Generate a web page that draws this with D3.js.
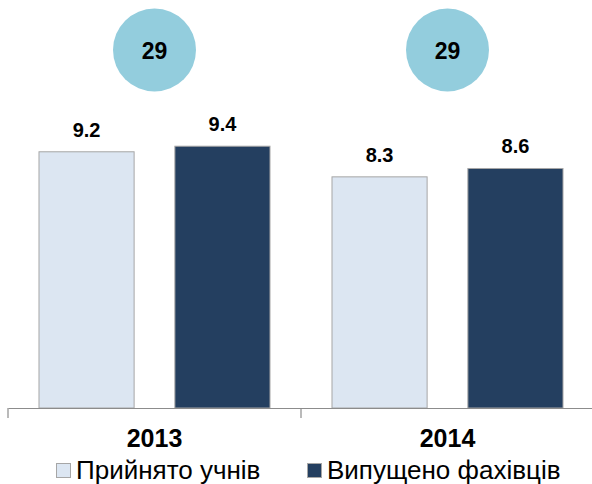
<!DOCTYPE html>
<html>
<head>
<meta charset="utf-8">
<script src="https://cdn.jsdelivr.net/npm/d3@7"></script>
<style>
  html, body { margin: 0; padding: 0; background: #fff; }
  svg { display: block; }
</style>
</head>
<body>
<svg id="chart" width="592" height="484"></svg>
<script>
// Years on the x axis
const years = ["2013", "2014"];
// Series names (legend order)
const seriesNames = ["Прийнято учнів", "Випущено фахівців"];
// Values per series, in the order of years
const admitted = [9.2, 8.3];
const graduated = [9.4, 8.6];
// Number shown in the circle above each year
const circleValues = [29, 29];

const colors = ["#DCE6F2", "#243F60"];
const font = "Arial, 'Liberation Sans', sans-serif";

const svg = d3.select("#chart");
const left = 8, right = 594, baseY = 408;

const x0 = d3.scaleBand().domain(years).range([left, right]).paddingInner(0).paddingOuter(0);
const x1 = d3.scaleBand().domain(seriesNames).range([31, x0.bandwidth() - 31]).paddingInner(0.3).paddingOuter(0);
const y = d3.scaleLinear().domain([0, 10]).range([baseY, baseY - 278.5]);

const rows = years.map((yr, i) => ({ year: yr, values: [admitted[i], graduated[i]] }));

// bars
const groups = svg.append("g").selectAll("g.grp").data(rows).join("g")
  .attr("class", "grp")
  .attr("transform", d => `translate(${x0(d.year)},0)`);

groups.selectAll("rect").data(d => d.values.map((v, k) => ({ v, k })))
  .join("rect")
  .attr("x", d => x1(seriesNames[d.k]))
  .attr("y", d => y(d.v))
  .attr("width", x1.bandwidth())
  .attr("height", d => baseY - y(d.v))
  .attr("fill", d => colors[d.k])
  .attr("stroke", "#A6A6A6")
  .attr("stroke-width", 1);

// value labels
groups.selectAll("text.val").data(d => d.values.map((v, k) => ({ v, k })))
  .join("text")
  .attr("class", "val")
  .attr("x", d => x1(seriesNames[d.k]) + x1.bandwidth() / 2)
  .attr("y", d => y(d.v) - 15)
  .attr("text-anchor", "middle")
  .attr("font-family", font)
  .attr("font-weight", "bold")
  .attr("font-size", 20)
  .attr("fill", "#000")
  .text(d => d.v.toFixed(1));

// x axis
const axis = d3.axisBottom(x0).tickSize(0).tickFormat("");
const axG = svg.append("g").attr("transform", `translate(0,${baseY})`).call(axis);
axG.select(".domain").attr("stroke", "#8C8C8C").attr("stroke-width", 1.2);
// boundary ticks between categories
const bounds = [left, x0("2014"), right - 1];
axG.selectAll("line.bt").data(bounds).join("line")
  .attr("class", "bt")
  .attr("x1", d => d).attr("x2", d => d)
  .attr("y1", 0).attr("y2", 10)
  .attr("stroke", "#8C8C8C").attr("stroke-width", 1.2);

// year labels
svg.selectAll("text.yr").data(years).join("text")
  .attr("class", "yr")
  .attr("x", d => x0(d) + x0.bandwidth() / 2)
  .attr("y", 447)
  .attr("text-anchor", "middle")
  .attr("font-family", font)
  .attr("font-weight", "bold")
  .attr("font-size", 25)
  .attr("fill", "#000")
  .text(d => d);

// circles with totals
const circ = svg.selectAll("g.circ").data(years).join("g")
  .attr("class", "circ")
  .attr("transform", d => `translate(${x0(d) + x0.bandwidth() / 2},50)`);
circ.append("circle").attr("r", 41.5).attr("fill", "#93CDDD");
circ.append("text")
  .attr("y", 8.5)
  .attr("text-anchor", "middle")
  .attr("font-family", font)
  .attr("font-weight", "bold")
  .attr("font-size", 23)
  .attr("fill", "#000")
  .text((d, i) => circleValues[i]);

// legend
const legendX = [56, 307];
const leg = svg.selectAll("g.leg").data(seriesNames).join("g")
  .attr("class", "leg")
  .attr("transform", (d, i) => `translate(${legendX[i]},0)`);
leg.append("rect")
  .attr("x", 0.5).attr("y", 463.5).attr("width", 14).attr("height", 14)
  .attr("fill", (d, i) => colors[i])
  .attr("stroke", "#A6A6A6").attr("stroke-width", 1);
leg.append("text")
  .attr("x", 20).attr("y", 479)
  .attr("font-family", font)
  .attr("font-size", 26)
  .attr("fill", "#000")
  .text(d => d);
</script>
</body>
</html>
